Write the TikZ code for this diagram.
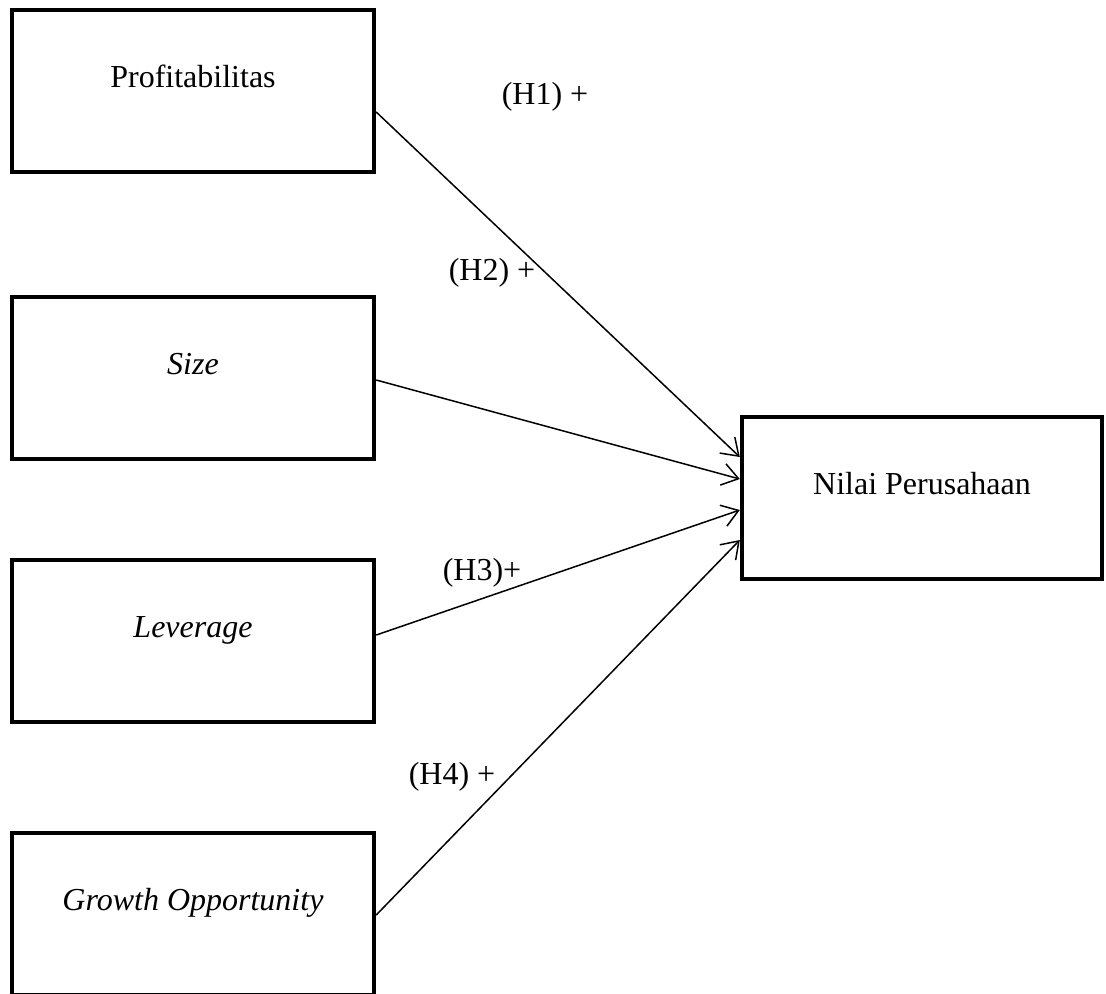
\documentclass[tikz,border=0pt]{standalone}
\usepackage{fontspec}
\setmainfont{Liberation Serif}
\usetikzlibrary{arrows.meta}
\begin{document}
\begin{tikzpicture}[x=0.5pt,y=-0.5pt,
  varbox/.style={draw, line width=2.2pt, rectangle, minimum width=181pt, minimum height=81pt,
    inner sep=0pt, text height=12pt, text depth=16pt, font=\fontsize{16}{19}\selectfont},
  link/.style={line width=0.75pt, -{Straight Barb[length=8pt,width=11pt,line width=0.75pt]}},
  hyp/.style={inner sep=0pt, font=\fontsize{16}{19}\selectfont}]
\useasboundingbox (0,0) rectangle (1106,993);
\node[varbox] (p) at (193,91) {Profitabilitas};
\node[varbox] (s) at (193,378) {\textit{Size}};
\node[varbox] (l) at (193,641) {\textit{Leverage}};
\node[varbox] (g) at (193,914) {\textit{Growth Opportunity}};
\node[varbox, minimum width=180pt] (n) at (922,498) {Nilai Perusahaan};
\draw[link] ([yshift=-10.5pt]p.east) -- ([yshift=20.5pt]n.west);
\draw[link] ([yshift=-1pt]s.east) -- ([yshift=9.5pt]n.west);
\draw[link] ([yshift=3pt]l.east) -- ([yshift=-6pt]n.west);
\draw[link] ([yshift=-0.5pt]g.east) -- ([yshift=-21pt]n.west);
\node[hyp] (h1) at (545,97) {(H1) +};
\node[hyp] (h2) at (492,273) {(H2) +};
\node[hyp] (h3) at (482,573) {(H3)+};
\node[hyp] (h4) at (452,777) {(H4) +};
\end{tikzpicture}
\end{document}
